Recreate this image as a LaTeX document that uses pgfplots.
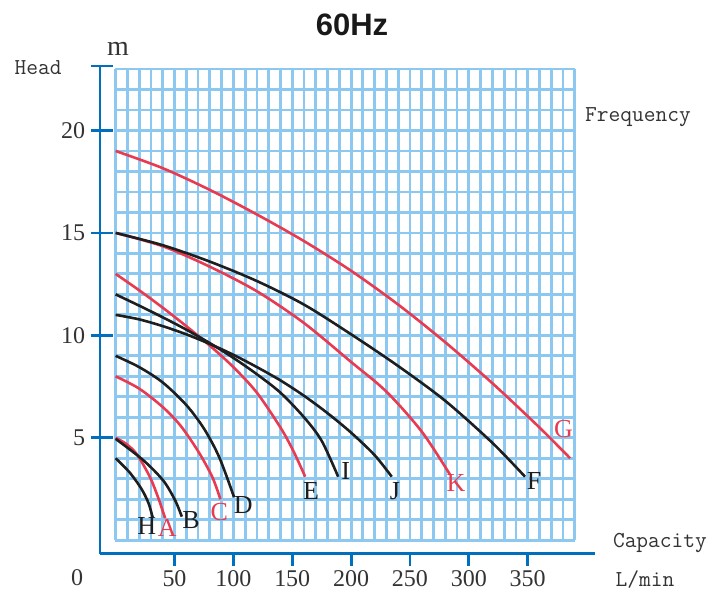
\documentclass[border=0pt]{standalone}
\usepackage{pgfplots}
\pgfplotsset{compat=1.18}
\usepackage{fontspec}
\setmainfont{Liberation Serif}
\newfontfamily\titlef{Liberation Sans}

\definecolor{gridc}{RGB}{140,200,240}
\definecolor{axblue}{RGB}{0,112,190}
\definecolor{cred}{RGB}{232,58,80}
\definecolor{cblk}{RGB}{30,30,30}

\begin{document}
\begin{tikzpicture}
\begin{axis}[
  scale only axis, width=247.5pt, height=244pt,
  xmin=-13.2, xmax=407, ymin=-0.66, ymax=23.15,
  axis x line=bottom, axis y line=left,
  axis line style={draw=axblue, line width=1.4pt, -},
  xtick={50,100,...,350}, ytick={5,10,15,20},
  major tick length=0pt,
  /pgf/number format/assume math mode=true,
  tick label style={font=\fontsize{12}{12}\selectfont, text=black!80},
  xticklabel style={yshift=-5pt},
  yticklabel style={xshift=-4pt},
  clip=false, set layers,
  every axis plot/.append style={line width=1.3pt, smooth, no markers},
]
% frame of the whole picture, in the proportions of the reference
\path (axis cs:-98.2,26.37) rectangle (axis cs:506.5,-2.61);

\begin{pgfonlayer}{axis grid}
  \pgfplotsinvokeforeach{0,10,...,390}{\draw[gridc, line width=1.4pt] (axis cs:#1,0) -- (axis cs:#1,23);}
  \pgfplotsinvokeforeach{0,1,...,23}{\draw[gridc, line width=1.4pt] (axis cs:-0.5,#1) -- (axis cs:390.5,#1);}
\end{pgfonlayer}

% tick marks
\pgfplotsinvokeforeach{5,10,15,20,23.15}{\draw[axblue, line width=1.4pt] (axis cs:-20.8,#1) -- (axis cs:-2.5,#1);}
\pgfplotsinvokeforeach{50,100,...,350}{\draw[axblue, line width=1.4pt] (axis cs:#1,-0.66) -- (axis cs:#1,-1.25);}

% H
\addplot[cblk] coordinates {(0,4) (12,3.3) (22,2.5) (28,1.8) (31.5,1.1)};
% A
\addplot[cred] coordinates {(0,5) (9,4.7) (18,4.2) (29,3.1) (36,2.1) (42,1.08)};
% B
\addplot[cblk] coordinates {(0,4.95) (23.6,3.9) (40.6,2.9) (50.5,1.95) (56.2,1.15)};
% C
\addplot[cred] coordinates {(0,8) (20,7.4) (40,6.5) (55,5.6) (70,4.35) (82,3.1) (89,2.0)};
% D
\addplot[cblk] coordinates {(0,9) (20,8.45) (40,7.7) (60,6.6) (75,5.45) (88,4.05) (100.6,2.1)};
% E
\addplot[cred] coordinates {(0,13) (20,12.2) (40,11.35) (60,10.45) (80,9.5) (100,8.45) (120,7.2) (140,5.5) (151,4.35) (161,3.1)};
% I
\addplot[cblk] coordinates {(0,12) (20,11.45) (40,10.88) (60,10.28) (80,9.62) (100,8.9) (120,8.1) (140,7.2) (160,6.0) (175,4.85) (189,3.1)};
% J
\addplot[cblk] coordinates {(0,11) (20,10.78) (40,10.45) (60,10.05) (80,9.58) (100,9.05) (120,8.45) (140,7.8) (160,7.05) (180,6.2) (200,5.25) (220,4.15) (234.5,3.1)};
% K
\addplot[cred] coordinates {(0,15) (40,14.35) (80,13.35) (120,12.15) (160,10.6) (200,8.7) (230,7.25) (260,5.3) (284,3.2)};
% F
\addplot[cblk] coordinates {(0,15) (40,14.4) (80,13.6) (120,12.65) (160,11.5) (200,10.05) (240,8.5) (280,6.8) (320,4.75) (347.7,3.1)};
% G
\addplot[cred] coordinates {(0,19) (40,18.16) (80,17.1) (120,15.9) (160,14.6) (200,13.15) (240,11.5) (280,9.66) (320,7.66) (360,5.5) (386,4.0)};

% curve names
\begin{scope}[every node/.style={font=\fontsize{13}{13}\selectfont, inner sep=0pt}]
\node[cblk] at (axis cs:26.4,0.67) {H};
\node[cred] at (axis cs:43.9,0.6) {A};
\node[cblk] at (axis cs:64,1.0) {B};
\node[cred] at (axis cs:88.1,1.36) {C};
\node[cblk] at (axis cs:108.5,1.73) {D};
\node[cblk] at (axis cs:166,2.38) {E};
\node[cblk] at (axis cs:195.4,3.36) {I};
\node[cblk] at (axis cs:237.3,2.38) {J};
\node[cred] at (axis cs:289.1,2.79) {K};
\node[cblk] at (axis cs:355.4,2.87) {F};
\node[cred] at (axis cs:380.3,5.42) {G};
\end{scope}

% axis descriptions
\begin{scope}[every node/.style={inner sep=0pt, text=black!80}]
\node[font=\ttfamily\fontsize{11.4}{11.4}\selectfont] at (axis cs:-65.9,23.05) {Head};
\node[font=\fontsize{14}{14}\selectfont] at (axis cs:2,24.0) {m};
\node[font=\ttfamily\fontsize{11.4}{11.4}\selectfont] at (axis cs:443.7,20.66) {Frequency};
\node[font=\ttfamily\fontsize{11.4}{11.4}\selectfont] at (axis cs:462.3,-0.12) {Capacity};
\node[font=\ttfamily\fontsize{11.4}{11.4}\selectfont] at (axis cs:449.6,-1.93) {L/min};
\node[font=\fontsize{12}{12}\selectfont] at (axis cs:-32.8,-1.83) {0};
\node[font=\titlef\bfseries\fontsize{15.5}{15.5}\selectfont, text=black!90] at (axis cs:200.8,25.15) {60Hz};
\end{scope}
\end{axis}
\end{tikzpicture}
\end{document}
